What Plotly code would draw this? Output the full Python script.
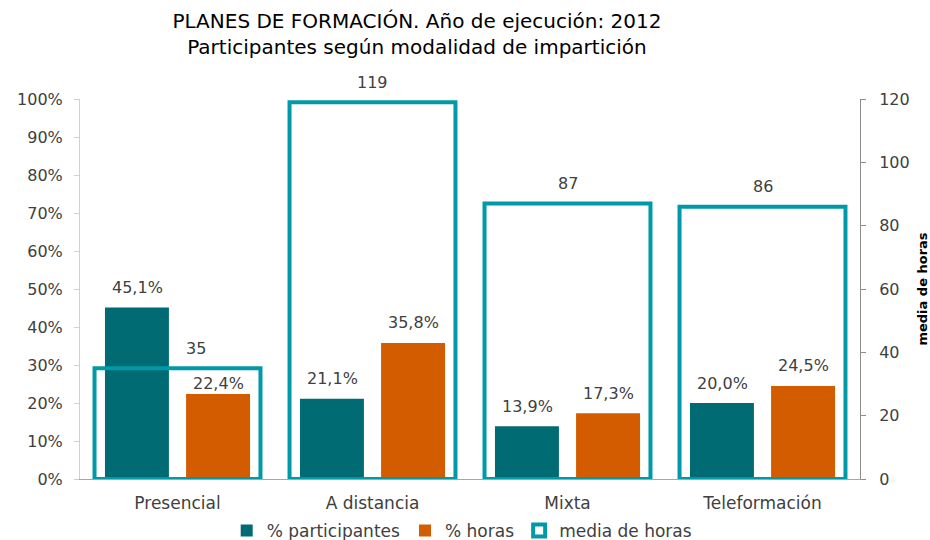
import plotly.graph_objects as go

categories = ["Presencial", "A distancia", "Mixta", "Teleformación"]
pct_participantes = [45.1, 21.1, 13.9, 20.0]
pct_horas = [22.4, 35.8, 17.3, 24.5]
media_horas = [35, 119, 87, 86]

FONT = "DejaVu Sans"
TXT = "#404040"

def pct_fmt(v):
    return f"{v:.1f}".replace(".", ",") + "%"

fig = go.Figure()
fig.add_trace(go.Bar(
    x=categories, y=pct_participantes, name="% participantes",
    marker=dict(color="#006B73", line=dict(width=0)),
    width=0.328, offset=-0.372,
))
fig.add_trace(go.Bar(
    x=categories, y=pct_horas, name="% horas",
    marker=dict(color="#D35C00", line=dict(width=0)),
    width=0.328, offset=0.044,
))
fig.add_trace(go.Bar(
    x=categories, y=media_horas, name="media de horas", yaxis="y2",
    marker=dict(color="rgba(0,0,0,0)", line=dict(color="#0099A8", width=4)),
    width=0.851, offset=-0.4255,
))

annotations = []
lab_font = dict(family=FONT, size=16, color=TXT)
for i, c in enumerate(categories):
    annotations.append(dict(x=c, y=pct_participantes[i], xref="x", yref="y",
                            text=pct_fmt(pct_participantes[i]), showarrow=False,
                            xshift=-40, yshift=20, font=lab_font))
    # label of first orange bar sits lower to avoid the box outline
    annotations.append(dict(x=c, y=pct_horas[i], xref="x", yref="y",
                            text=pct_fmt(pct_horas[i]), showarrow=False,
                            xshift=41, yshift=10 if i == 0 else 20, font=lab_font))
    annotations.append(dict(x=c, y=media_horas[i], xref="x", yref="y2",
                            text=str(media_horas[i]), showarrow=False,
                            xshift=18 if i == 0 else 0, yshift=20, font=lab_font))

fig.update_layout(
    width=930, height=540,
    margin=dict(l=80, r=70, t=99, b=61),
    paper_bgcolor="white", plot_bgcolor="white",
    barmode="overlay",
    font=dict(family=FONT, color=TXT, size=16),
    title=dict(
        text="PLANES DE FORMACIÓN. Año de ejecución: 2012<br>Participantes según modalidad de impartición",
        x=0.432, xanchor="center", xref="paper", y=0.948, yanchor="middle", yref="container",
        font=dict(family=FONT, size=20, color="#000000"),
    ),
    xaxis=dict(
        showline=True, linecolor="#a6a6a6", linewidth=1,
        ticks="outside", ticklen=9, tickcolor="rgba(0,0,0,0)",
        tickfont=dict(size=17, color=TXT), showgrid=False, automargin=False,
    ),
    yaxis=dict(
        range=[0, 100], dtick=10, ticksuffix="%", showgrid=False, zeroline=False,
        showline=True, linecolor="#d0d0d0", linewidth=1,
        ticks="outside", ticklen=5, tickcolor="#d0d0d0", ticklabelstandoff=8,
        tickfont=dict(size=16, color=TXT), automargin=False,
    ),
    yaxis2=dict(
        range=[0, 120], dtick=20, overlaying="y", side="right", showgrid=False, zeroline=False,
        showline=True, linecolor="#8c8c8c", linewidth=1,
        ticks="outside", ticklen=5, tickcolor="#8c8c8c", ticklabelstandoff=10,
        tickfont=dict(size=16, color=TXT), automargin=False,
        title=dict(text="<b>media de horas</b>", font=dict(size=13, color="#000000"), standoff=10),
    ),
    legend=dict(
        orientation="h", x=0.49, xanchor="center", xref="paper",
        y=(540 - 531) / 540, yanchor="middle", yref="container",
        font=dict(size=17, color=TXT), traceorder="normal",
    ),
    annotations=annotations,
    showlegend=True,
)

fig.write_html("out.html", config={"displayModeBar": False},
               post_script="document.body.style.margin='0px';")
